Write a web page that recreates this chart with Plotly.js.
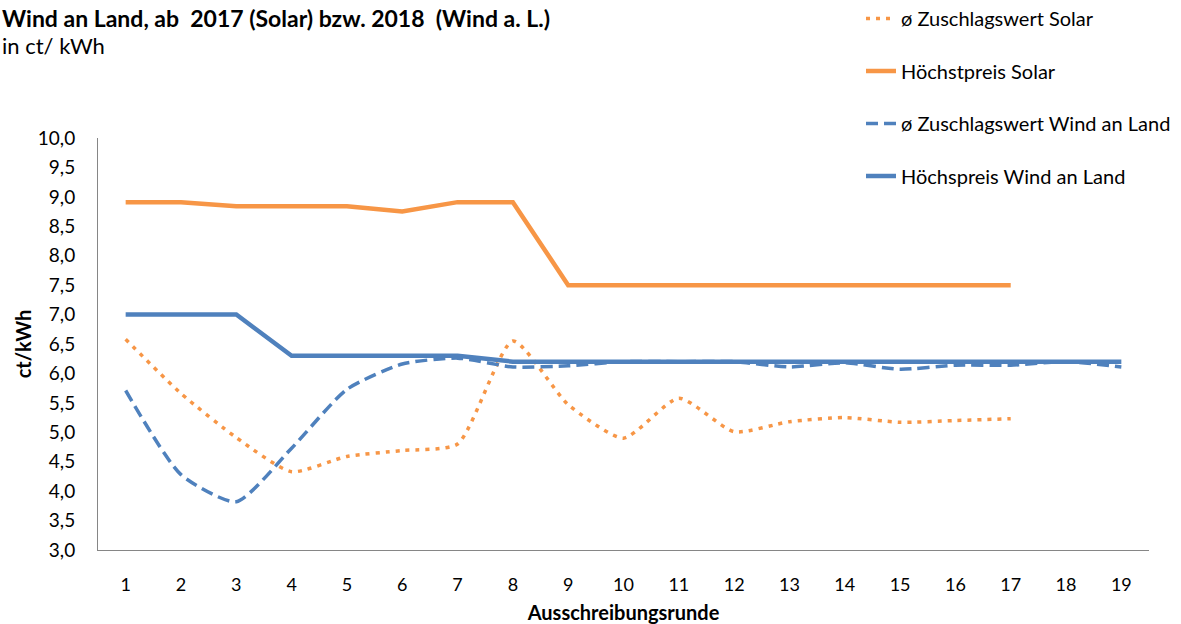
<!DOCTYPE html>
<html>
<head>
<meta charset="utf-8">
<script src="https://cdn.plot.ly/plotly-3.0.1.min.js"></script>
<style>html,body{margin:0;padding:0;background:#fff}#chart{width:1181px;height:624px}</style>
</head>
<body>
<div id="chart"></div>
<script>
const rounds = [1,2,3,4,5,6,7,8,9,10,11,12,13,14,15,16,17,18,19];
const tickLabels = ["1","2","3","4","5","6","7","8","9","10","11","12","13","14","15","16","17","18","19"];
const solarAvg = [6.58,5.66,4.91,4.33,4.59,4.69,4.80,6.55,5.47,4.90,5.58,5.01,5.18,5.25,5.17,5.20,5.23];
const solarMax = [8.91,8.91,8.84,8.84,8.84,8.75,8.91,8.91,7.50,7.50,7.50,7.50,7.50,7.50,7.50,7.50,7.50];
const windAvg = [5.71,4.28,3.82,4.73,5.73,6.16,6.26,6.11,6.13,6.20,6.20,6.20,6.11,6.18,6.07,6.14,6.14,6.20,6.11];
const windMax = [7.00,7.00,7.00,6.30,6.30,6.30,6.30,6.20,6.20,6.20,6.20,6.20,6.20,6.20,6.20,6.20,6.20,6.20,6.20];
const names = ["ø Zuschlagswert Solar","Höchstpreis Solar","ø Zuschlagswert Wind an Land","Höchspreis Wind an Land"];

const ORANGE = "#F79646", BLUE = "#4F81BD";
const FONT = "Lato, Carlito, Calibri, sans-serif";

const traces = [
  {x: rounds.slice(0, solarAvg.length), y: solarAvg, name: names[0], legendgroup: "a",
   mode: "lines", line: {color: ORANGE, width: 3.5, dash: "4px,6px", shape: "spline", smoothing: 0.6}},
  {x: rounds.slice(0, solarMax.length), y: solarMax, name: names[1], legendgroup: "b",
   mode: "lines", line: {color: ORANGE, width: 4.5}},
  {x: rounds, y: windAvg, name: names[2], legendgroup: "c",
   mode: "lines", line: {color: BLUE, width: 3.5, dash: "12px,6px", shape: "spline", smoothing: 0.6}},
  {x: rounds, y: windMax, name: names[3], legendgroup: "d",
   mode: "lines", line: {color: BLUE, width: 4.5}}
];

const PW = 1181 - 98 - 32, PH = 624 - 138 - 74;
const layout = {
  width: 1181, height: 624,
  margin: {l: 98, r: 32, t: 138, b: 74, autoexpand: false},
  paper_bgcolor: "#fff", plot_bgcolor: "#fff",
  separators: ",.",
  font: {family: FONT, size: 18, color: "#000"},
  showlegend: true,
  legend: {x: (861 - 98) / PW, xanchor: "left", y: (550 + 1) / PH, yanchor: "top", traceorder: "grouped",
           tracegroupgap: 23.5, font: {family: FONT, size: 20, color: "#000"}, bgcolor: "rgba(0,0,0,0)"},
  xaxis: {
    range: [0.5, 19.5], tickvals: rounds, ticktext: tickLabels,
    showgrid: false, zeroline: false, showline: true, linecolor: "#868686", linewidth: 1,
    ticks: "", ticklabelstandoff: 18, tickfont: {family: FONT, size: 18},
    title: {text: "<b>Ausschreibungsrunde</b>", font: {family: FONT, size: 20}, standoff: 12}
  },
  yaxis: {
    range: [3, 10], dtick: 0.5, tick0: 3, tickformat: ".1f",
    showgrid: false, zeroline: false, showline: true, linecolor: "#868686", linewidth: 1,
    ticks: "", ticklabelstandoff: 18, tickfont: {family: FONT, size: 19},
    title: {text: "<b>ct/kWh</b>", font: {family: FONT, size: 20}, standoff: 0}
  },
  annotations: [
    {xref: "paper", yref: "paper", x: -98 / PW, y: (550 - 18) / PH, xanchor: "left", yanchor: "middle",
     showarrow: false, text: "<b>Wind an Land, ab  2017 (Solar) bzw. 2018  (Wind a. L.)</b>",
     font: {family: FONT, size: 23, color: "#000"}},
    {xref: "paper", yref: "paper", x: -98 / PW, y: (550 - 45) / PH, xanchor: "left", yanchor: "middle",
     showarrow: false, text: "in ct/ kWh", font: {family: FONT, size: 22, color: "#000"}}
  ]
};

Plotly.newPlot("chart", traces, layout, {displayModeBar: false, staticPlot: true});
</script>
</body>
</html>
